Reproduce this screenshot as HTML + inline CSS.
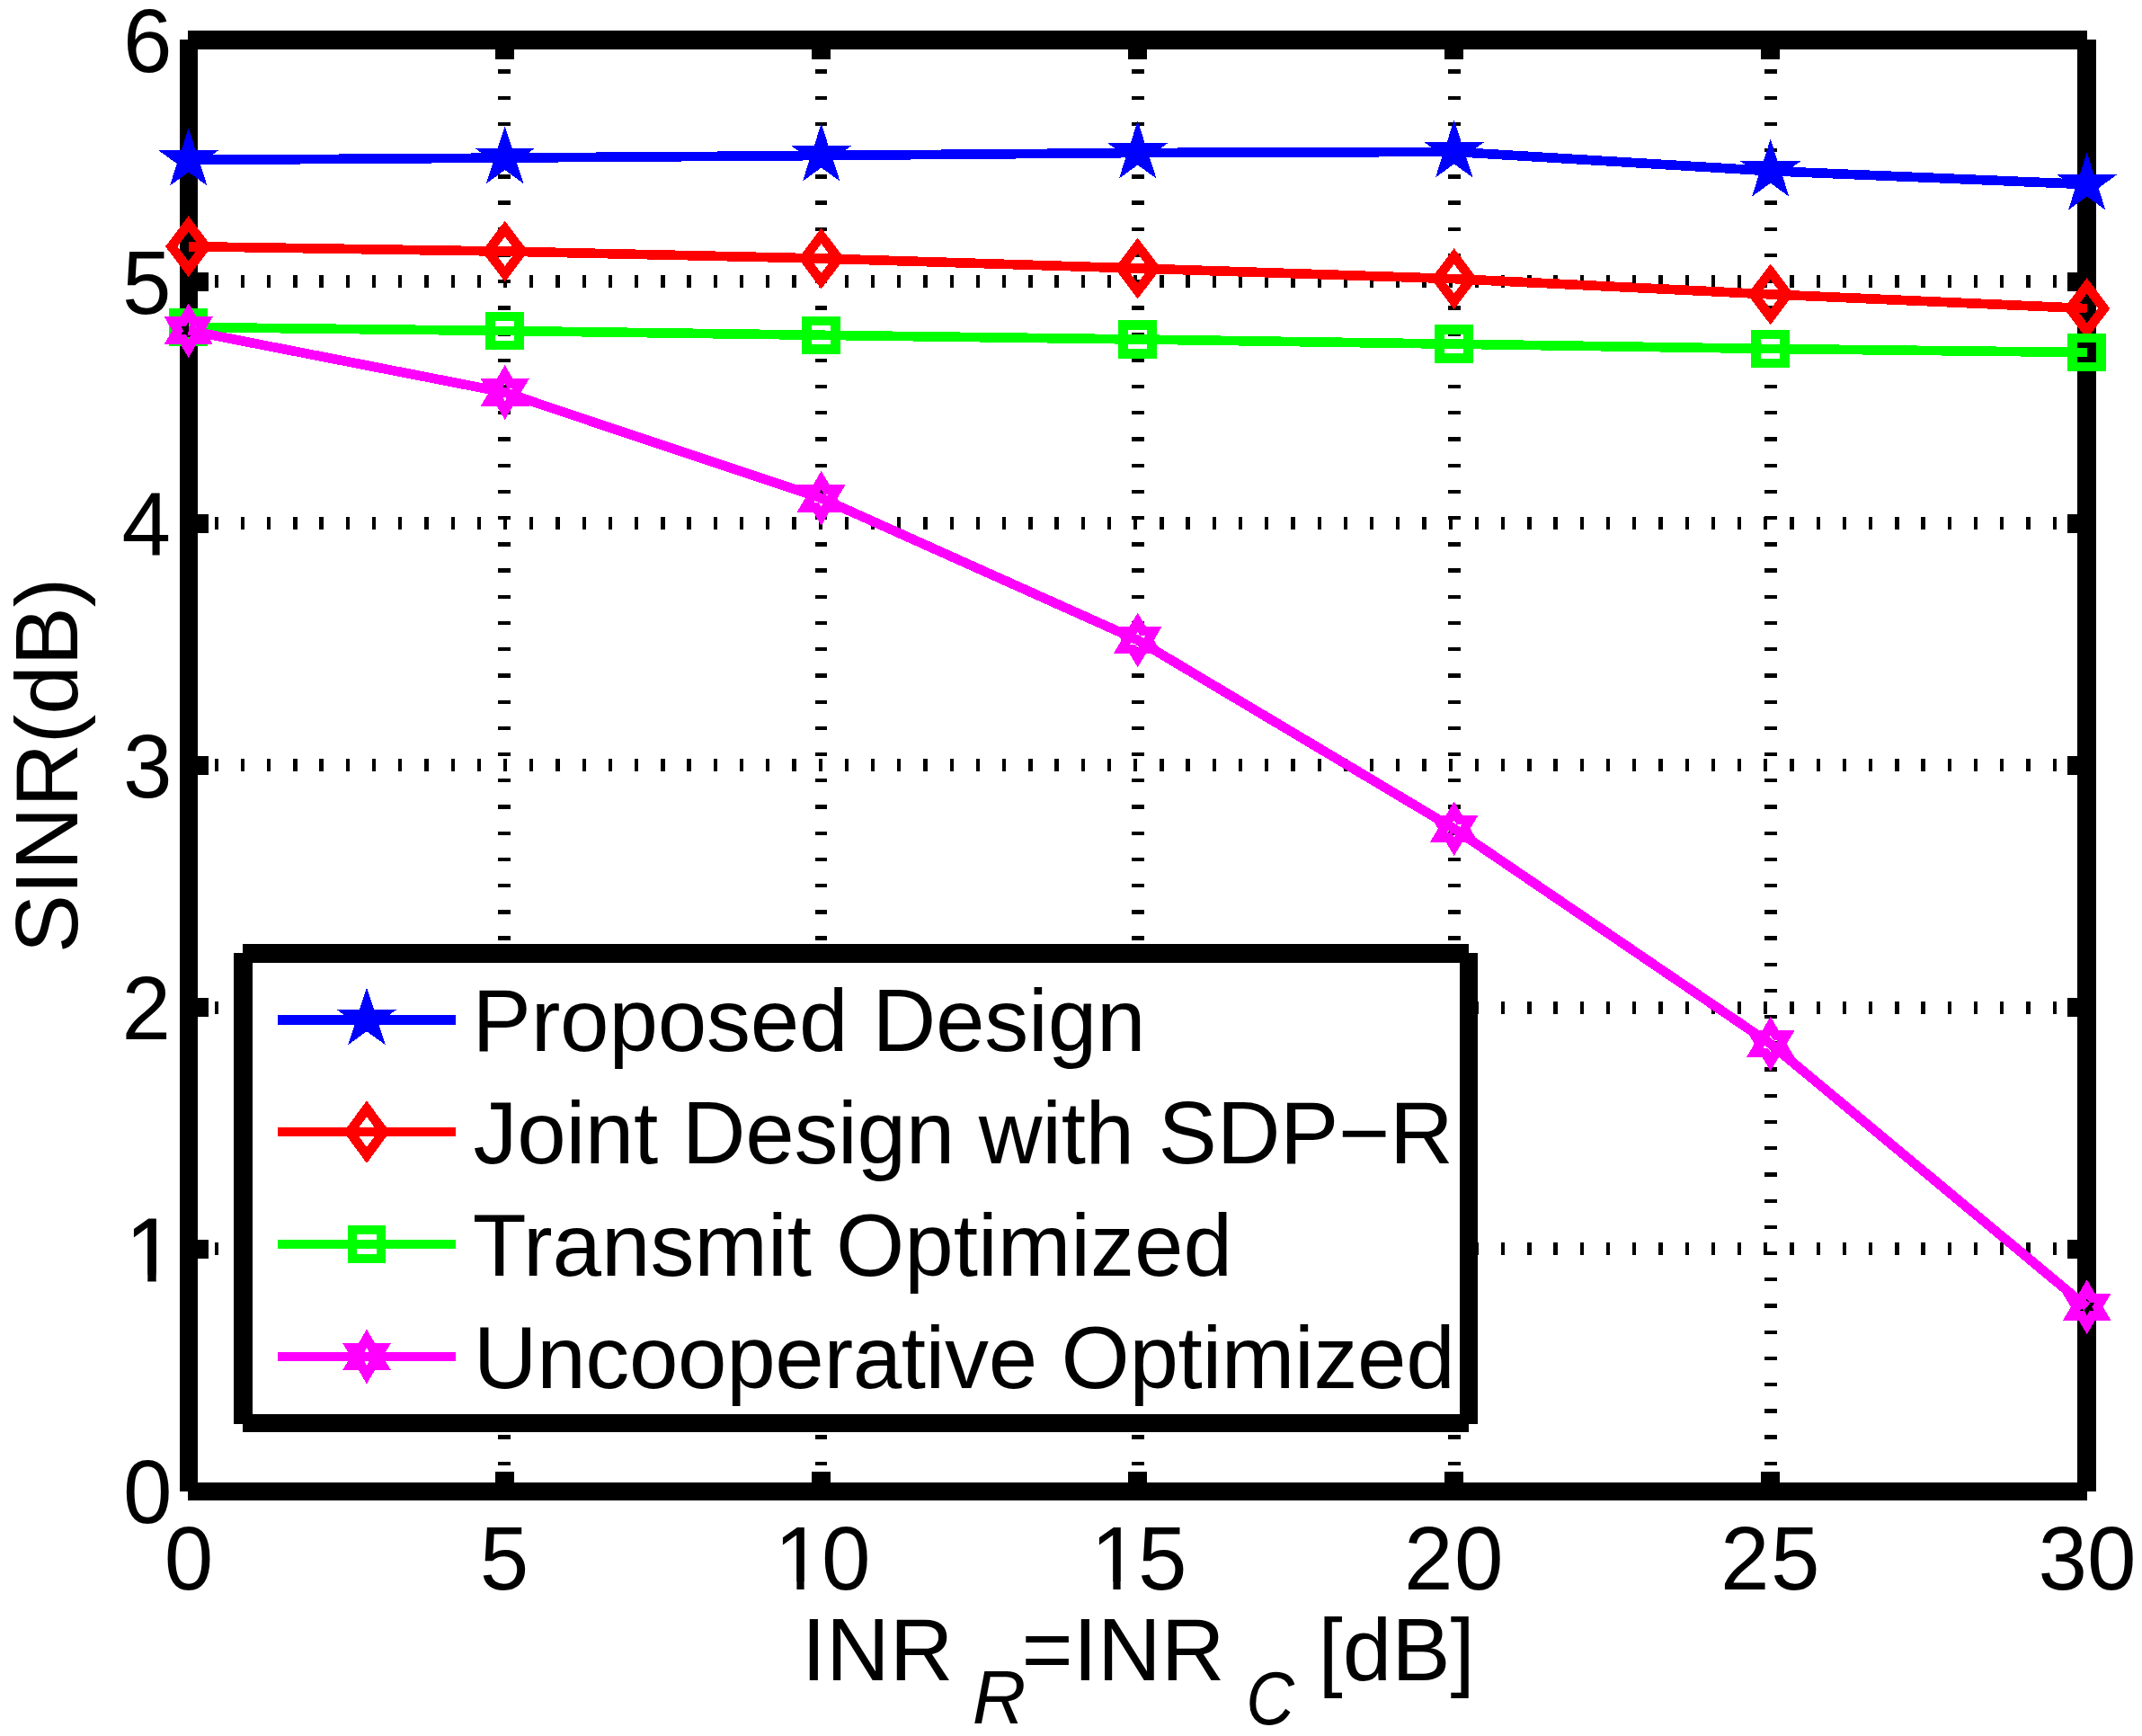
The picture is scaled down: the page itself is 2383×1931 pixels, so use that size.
<!DOCTYPE html>
<html lang="en"><head><meta charset="utf-8"><title>SINR versus INR</title>
<style>
html,body{margin:0;padding:0;background:#fff;}
body{width:2383px;height:1931px;}
svg{display:block;}
text{font-family:"Liberation Sans",Arial,Helvetica,sans-serif;font-size:98px;fill:#000;}
.sub{font-style:italic;font-size:82.5px;}
.one{stroke:#000;stroke-width:1px;}
.b{stroke:#0000ff;}.r{stroke:#ff0000;}.g{stroke:#00ff00;}.m{stroke:#ff00ff;}
.ln{fill:none;stroke-width:10.7;stroke-linejoin:miter;}
polyline,polygon,line,rect{shape-rendering:crispEdges;}
.grid{stroke:#000;stroke-width:14;fill:none;stroke-dasharray:4.3 24.913;}
</style></head><body>
<svg width="2383" height="1931" viewBox="0 0 2383 1931">
<rect x="0" y="0" width="2383" height="1931" fill="#fff"/>
<defs><clipPath id="one"><rect x="-5" y="-100" width="70" height="91.4"/><rect x="24.3" y="-10" width="9.4" height="12"/></clipPath><clipPath id="one2"><rect x="-10" y="-100" width="140" height="91.7"/><rect x="26.9" y="-10" width="8.2" height="12"/><rect x="54.5" y="-10" width="70" height="16"/></clipPath></defs>
<g class="grid">
<line x1="561" y1="1659.2" x2="561" y2="45" stroke-width="14"/>
<line x1="913.5" y1="1659.2" x2="913.5" y2="45" stroke-width="13"/>
<line x1="1266" y1="1659.2" x2="1266" y2="45" stroke-width="14"/>
<line x1="1618" y1="1659.2" x2="1618" y2="45" stroke-width="14"/>
<line x1="1970" y1="1659.2" x2="1970" y2="45" stroke-width="14"/>
<line x1="209.4" y1="313" x2="2312" y2="313"/>
<line x1="209.4" y1="582" x2="2312" y2="582"/>
<line x1="209.4" y1="851" x2="2312" y2="851"/>
<line x1="209.4" y1="1121" x2="2312" y2="1121"/>
<line x1="209.4" y1="1389" x2="2312" y2="1389"/>
</g>
<g shape-rendering="crispEdges">
<rect x="209" y="34" width="2113" height="21" fill="#000"/>
<rect x="200" y="44" width="20" height="1615" fill="#000"/>
<rect x="209" y="1649" width="2113" height="20" fill="#000"/>
<rect x="2311" y="44" width="21" height="1615" fill="#000"/>
<rect x="551" y="45" width="21" height="21" fill="#000"/>
<rect x="551" y="1637.2" width="21" height="21.8" fill="#000"/>
<rect x="903" y="45" width="21" height="21" fill="#000"/>
<rect x="903" y="1637.2" width="21" height="21.8" fill="#000"/>
<rect x="1255" y="45" width="21" height="21" fill="#000"/>
<rect x="1255" y="1637.2" width="21" height="21.8" fill="#000"/>
<rect x="1607" y="45" width="21" height="21" fill="#000"/>
<rect x="1607" y="1637.2" width="21" height="21.8" fill="#000"/>
<rect x="1959" y="45" width="21" height="21" fill="#000"/>
<rect x="1959" y="1637.2" width="21" height="21.8" fill="#000"/>
<rect x="210" y="303" width="22" height="21" fill="#000"/>
<rect x="2300" y="303" width="22" height="21" fill="#000"/>
<rect x="210" y="572" width="22" height="21" fill="#000"/>
<rect x="2300" y="572" width="22" height="21" fill="#000"/>
<rect x="210" y="841" width="22" height="21" fill="#000"/>
<rect x="2300" y="841" width="22" height="21" fill="#000"/>
<rect x="210" y="1110" width="22" height="21" fill="#000"/>
<rect x="2300" y="1110" width="22" height="21" fill="#000"/>
<rect x="210" y="1379" width="22" height="21" fill="#000"/>
<rect x="2300" y="1379" width="22" height="21" fill="#000"/>
</g>
<polyline class="ln b" points="209.7,178 561.7,175.6 913.7,173 1265.7,170 1617.7,168.9 1969.7,190.2 2321.7,205.1"/>
<polygon class="ln b" fill="none" stroke-miterlimit="10" points="209.7,159.9 213.76,172.41 226.91,172.41 216.28,180.14 220.34,192.64 209.7,184.91 199.06,192.64 203.12,180.14 192.49,172.41 205.64,172.41"/>
<polygon class="ln b" fill="none" stroke-miterlimit="10" points="561.7,157.5 565.76,170.01 578.91,170.01 568.28,177.74 572.34,190.24 561.7,182.51 551.06,190.24 555.12,177.74 544.49,170.01 557.64,170.01"/>
<polygon class="ln b" fill="none" stroke-miterlimit="10" points="913.7,154.9 917.76,167.41 930.91,167.41 920.28,175.14 924.34,187.64 913.7,179.91 903.06,187.64 907.12,175.14 896.49,167.41 909.64,167.41"/>
<polygon class="ln b" fill="none" stroke-miterlimit="10" points="1265.7,151.9 1269.76,164.41 1282.91,164.41 1272.28,172.14 1276.34,184.64 1265.7,176.91 1255.06,184.64 1259.12,172.14 1248.49,164.41 1261.64,164.41"/>
<polygon class="ln b" fill="none" stroke-miterlimit="10" points="1617.7,150.8 1621.76,163.31 1634.91,163.31 1624.28,171.04 1628.34,183.54 1617.7,175.81 1607.06,183.54 1611.12,171.04 1600.49,163.31 1613.64,163.31"/>
<polygon class="ln b" fill="none" stroke-miterlimit="10" points="1969.7,172.1 1973.76,184.61 1986.91,184.61 1976.28,192.34 1980.34,204.84 1969.7,197.11 1959.06,204.84 1963.12,192.34 1952.49,184.61 1965.64,184.61"/>
<polygon class="ln b" fill="none" stroke-miterlimit="10" points="2321.7,187 2325.76,199.51 2338.91,199.51 2328.28,207.24 2332.34,219.74 2321.7,212.01 2311.06,219.74 2315.12,207.24 2304.49,199.51 2317.64,199.51"/>
<polyline class="ln r" points="209.7,274.2 561.7,279.6 913.7,287.5 1265.7,298.5 1617.7,310.1 1969.7,327.4 2321.7,343.1"/>
<polygon class="ln r" stroke-width="10.9" stroke-miterlimit="10" points="209.7,249.1 228.7,274.2 209.7,299.3 190.7,274.2"/>
<polygon class="ln r" stroke-width="10.9" stroke-miterlimit="10" points="561.7,254.5 580.7,279.6 561.7,304.7 542.7,279.6"/>
<polygon class="ln r" stroke-width="10.9" stroke-miterlimit="10" points="913.7,262.4 932.7,287.5 913.7,312.6 894.7,287.5"/>
<polygon class="ln r" stroke-width="10.9" stroke-miterlimit="10" points="1265.7,273.4 1284.7,298.5 1265.7,323.6 1246.7,298.5"/>
<polygon class="ln r" stroke-width="10.9" stroke-miterlimit="10" points="1617.7,285 1636.7,310.1 1617.7,335.2 1598.7,310.1"/>
<polygon class="ln r" stroke-width="10.9" stroke-miterlimit="10" points="1969.7,302.3 1988.7,327.4 1969.7,352.5 1950.7,327.4"/>
<polygon class="ln r" stroke-width="10.9" stroke-miterlimit="10" points="2321.7,318 2340.7,343.1 2321.7,368.2 2302.7,343.1"/>
<polyline class="ln g" points="209.7,364 561.7,368 913.7,372.8 1265.7,377.5 1617.7,382.7 1969.7,388 2321.7,392"/>
<rect class="ln g" x="193.8" y="348.1" width="31.8" height="31.8"/>
<rect class="ln g" x="545.8" y="352.1" width="31.8" height="31.8"/>
<rect class="ln g" x="897.8" y="356.9" width="31.8" height="31.8"/>
<rect class="ln g" x="1249.8" y="361.6" width="31.8" height="31.8"/>
<rect class="ln g" x="1601.8" y="366.8" width="31.8" height="31.8"/>
<rect class="ln g" x="1953.8" y="372.1" width="31.8" height="31.8"/>
<rect class="ln g" x="2305.8" y="376.1" width="31.8" height="31.8"/>
<polyline class="ln m" points="209.7,367.6 561.7,436.5 913.7,554.2 1265.7,712 1617.7,921.8 1969.7,1161.1 2321.7,1453.8"/>
<polygon class="ln m" fill="none" stroke-miterlimit="10" points="209.7,347.7 215.59,357.65 227.36,357.65 221.48,367.6 227.36,377.55 215.59,377.55 209.7,387.5 203.81,377.55 192.04,377.55 197.92,367.6 192.04,357.65 203.81,357.65"/>
<polygon class="ln m" fill="none" stroke-miterlimit="10" points="561.7,416.6 567.59,426.55 579.36,426.55 573.48,436.5 579.36,446.45 567.59,446.45 561.7,456.4 555.81,446.45 544.04,446.45 549.92,436.5 544.04,426.55 555.81,426.55"/>
<polygon class="ln m" fill="none" stroke-miterlimit="10" points="913.7,534.3 919.59,544.25 931.36,544.25 925.48,554.2 931.36,564.15 919.59,564.15 913.7,574.1 907.81,564.15 896.04,564.15 901.92,554.2 896.04,544.25 907.81,544.25"/>
<polygon class="ln m" fill="none" stroke-miterlimit="10" points="1265.7,692.1 1271.59,702.05 1283.36,702.05 1277.48,712 1283.36,721.95 1271.59,721.95 1265.7,731.9 1259.81,721.95 1248.04,721.95 1253.92,712 1248.04,702.05 1259.81,702.05"/>
<polygon class="ln m" fill="none" stroke-miterlimit="10" points="1617.7,901.9 1623.59,911.85 1635.36,911.85 1629.48,921.8 1635.36,931.75 1623.59,931.75 1617.7,941.7 1611.81,931.75 1600.04,931.75 1605.92,921.8 1600.04,911.85 1611.81,911.85"/>
<polygon class="ln m" fill="none" stroke-miterlimit="10" points="1969.7,1141.2 1975.59,1151.15 1987.36,1151.15 1981.48,1161.1 1987.36,1171.05 1975.59,1171.05 1969.7,1181 1963.81,1171.05 1952.04,1171.05 1957.92,1161.1 1952.04,1151.15 1963.81,1151.15"/>
<polygon class="ln m" fill="none" stroke-miterlimit="10" points="2321.7,1433.9 2327.59,1443.85 2339.36,1443.85 2333.48,1453.8 2339.36,1463.75 2327.59,1463.75 2321.7,1473.7 2315.81,1463.75 2304.04,1463.75 2309.92,1453.8 2304.04,1443.85 2315.81,1443.85"/>
<text transform="translate(182.75 1768) scale(1 1.03)">0</text>
<text transform="translate(533.75 1768) scale(1 1.03)">5</text>
<text transform="translate(859.5 1768) scale(1 1.03)" dx="2,-2" clip-path="url(#one2)">10</text>
<text transform="translate(1211.5 1768) scale(1 1.03)" dx="2,-2" clip-path="url(#one2)">15</text>
<text transform="translate(1563.5 1768) scale(1 1.03)" dx="-1.4,1.4">20</text>
<text transform="translate(1915.5 1768) scale(1 1.03)" dx="-1.4,1.4">25</text>
<text transform="translate(2267.5 1768) scale(1 1.03)">30</text>
<text transform="translate(137 1694.4) scale(1 1.03)">0</text>
<g transform="translate(140 1425.4)" clip-path="url(#one)"><text class="one" transform="scale(1 1.03)">1</text></g>
<text transform="translate(135.6 1156.4) scale(1 1.03)">2</text>
<text transform="translate(137 887.4) scale(1 1.03)">3</text>
<text transform="translate(135.4 618.4) scale(1 1.03)">4</text>
<text transform="translate(136 349.4) scale(1 1.03)">5</text>
<text transform="translate(137 80.4) scale(1 1.03)">6</text>
<text transform="translate(891.8 1869) scale(1 1.012)">INR</text>
<text transform="translate(1081.7 1917) scale(1 1.012)" class="sub">R</text>
<text transform="translate(1136.5 1869) scale(1 1.012)">=INR</text>
<text transform="translate(1386.2 1917.5) scale(0.9 1.012)" class="sub">C</text>
<text transform="translate(1466.5 1869) scale(1 1.012)">[dB]</text>
<text transform="translate(85.8 1060.3) rotate(-90) scale(1 1.012)" textLength="417.6" lengthAdjust="spacing">SINR(dB)</text>
<rect x="270.3" y="1060.5" width="1364.2" height="522" fill="#fff"/>
<g shape-rendering="crispEdges">
<rect x="270" y="1050" width="1364" height="21" fill="#000"/>
<rect x="260" y="1060" width="21" height="524" fill="#000"/>
<rect x="270" y="1573" width="1364" height="20" fill="#000"/>
<rect x="1624" y="1060" width="20" height="524" fill="#000"/>
</g>
<line class="ln b" x1="309" y1="1134.2" x2="507" y2="1134.2"/>
<line class="ln r" x1="309" y1="1259.1" x2="507" y2="1259.1"/>
<line class="ln g" x1="309" y1="1384" x2="507" y2="1384"/>
<line class="ln m" x1="309" y1="1509" x2="507" y2="1509"/>
<polygon class="ln b" fill="none" stroke-miterlimit="10" points="408,1115.6 412.06,1128.11 425.21,1128.11 414.58,1135.84 418.64,1148.34 408,1140.61 397.36,1148.34 401.42,1135.84 390.79,1128.11 403.94,1128.11"/>
<polygon class="ln r" stroke-width="10.9" stroke-miterlimit="10" points="408,1233.3 427,1259.1 408,1284.9 389,1259.1"/>
<rect class="ln g" x="392.1" y="1368.1" width="31.8" height="31.8"/>
<polygon class="ln m" fill="none" stroke-miterlimit="10" points="408,1489.1 413.89,1499.05 425.66,1499.05 419.78,1509 425.66,1518.95 413.89,1518.95 408,1528.9 402.11,1518.95 390.34,1518.95 396.22,1509 390.34,1499.05 402.11,1499.05"/>
<text transform="translate(525.5 1168.7) scale(1 1.012)" textLength="749" lengthAdjust="spacing">Proposed Design</text>
<text transform="translate(526.6 1293.6) scale(1 1.012)" textLength="1090.2" lengthAdjust="spacing">Joint Design with SDP−R</text>
<text transform="translate(525.7 1418.5) scale(1 1.012)" textLength="845.2" lengthAdjust="spacing">Transmit Optimized</text>
<text transform="translate(526.8 1543.5) scale(1 1.012)" textLength="1091.9" lengthAdjust="spacing">Uncooperative Optimized</text>
</svg>
</body></html>
